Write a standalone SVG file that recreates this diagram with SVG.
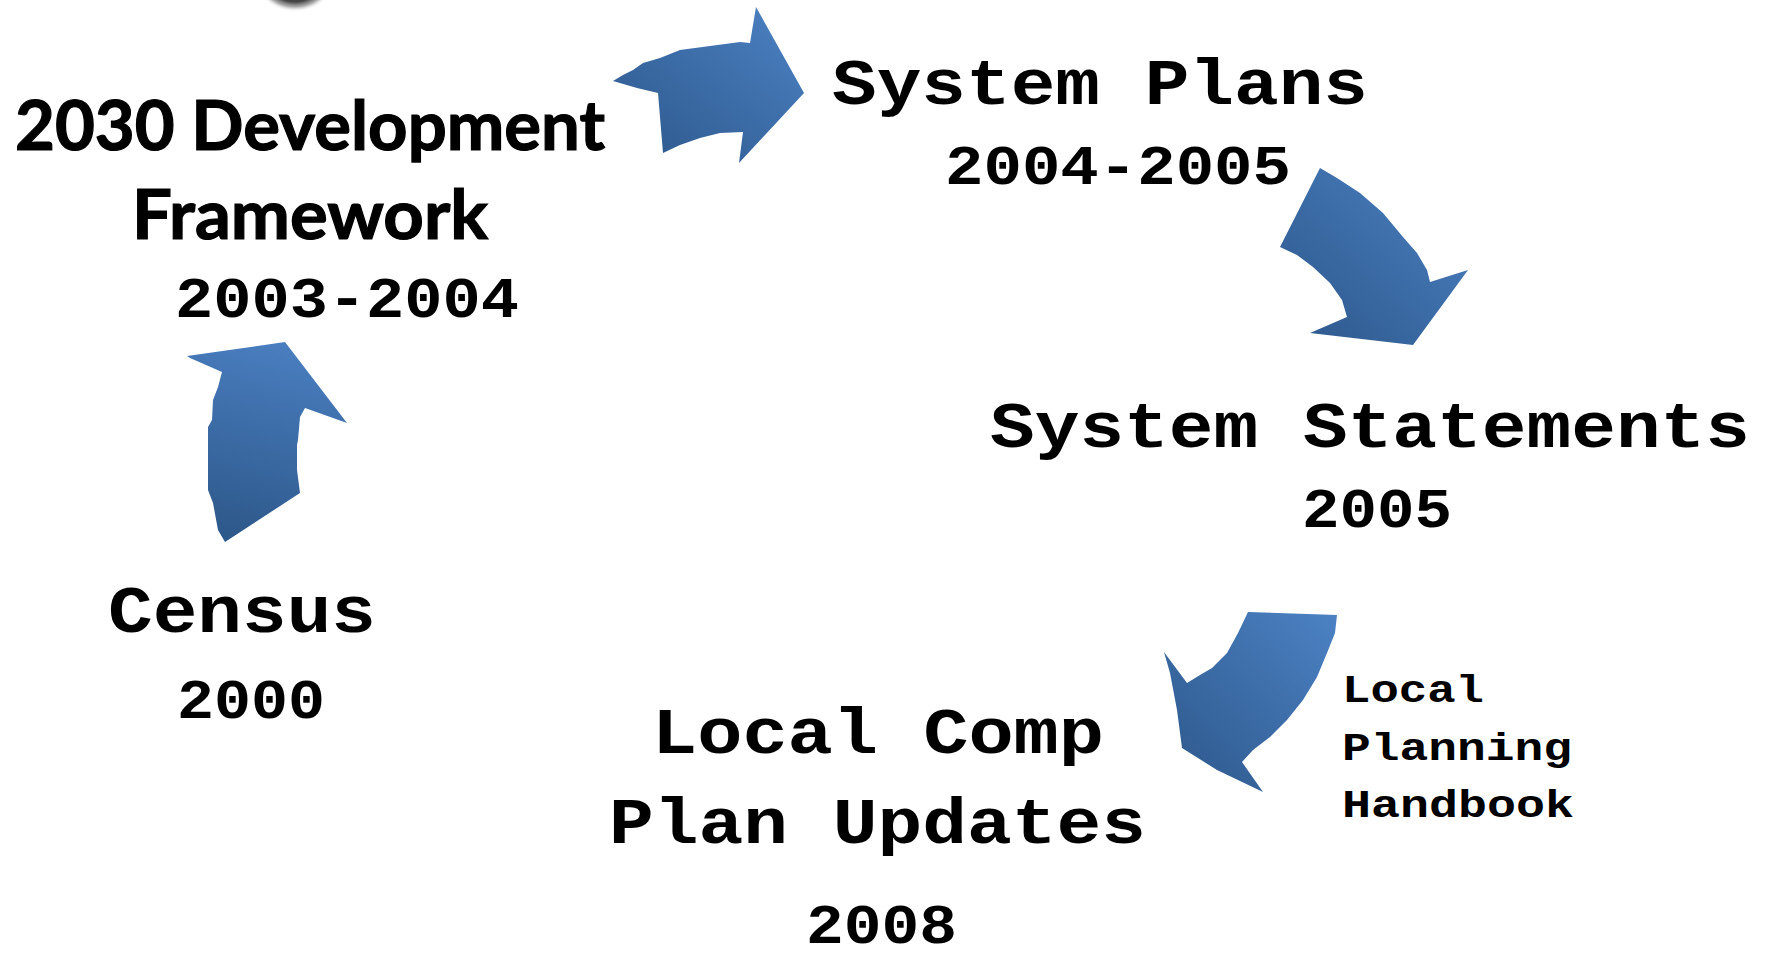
<svg xmlns="http://www.w3.org/2000/svg" width="1768" height="959" viewBox="0 0 1768 959">
<defs>
<linearGradient id="gArrow" x1="1" y1="0" x2="0" y2="1">
<stop offset="0" stop-color="#4c82c4"/>
<stop offset="1" stop-color="#2c5689"/>
</linearGradient>
<linearGradient id="gUp" x1="0.6" y1="0" x2="0.4" y2="1">
<stop offset="0" stop-color="#4a7ec0"/>
<stop offset="1" stop-color="#2d588a"/>
</linearGradient>
<radialGradient id="gBlob" cx="0.5" cy="0.5" r="0.5">
<stop offset="0" stop-color="#222222"/>
<stop offset="0.7" stop-color="#444444"/>
<stop offset="0.85" stop-color="#777777" stop-opacity="0.6"/>
<stop offset="1" stop-color="#ffffff" stop-opacity="0"/>
</radialGradient>
</defs>
<style>
.mono{font-family:"Liberation Mono","Courier New",monospace;font-weight:bold;fill:#000}
.sans{font-family:Lato,"Open Sans",sans-serif;font-weight:bold;fill:#000;stroke:#000;stroke-width:1.2}
.arrow{stroke:none}
</style>
<rect width="1768" height="959" fill="#ffffff"/>
<ellipse cx="295" cy="-22" rx="40" ry="34" fill="url(#gBlob)"/>

<g id="connectors">
<polygon class="arrow" fill="url(#gArrow)" points="613,81 623,75 633,70 643,63 660,58 680,50 710,46 740,42 750,43 756,7 804,93 739,163 743,132 720,133 700,138 680,145 663,153 658,93 637,88"/>
<polygon class="arrow" fill="url(#gArrow)" points="1320,168 1337,178 1360,193 1383,213 1403,237 1417,253 1427,270 1430,282 1468,270 1413,345 1310,333 1347,317 1342,300 1330,283 1313,267 1297,255 1280,247"/>
<polygon class="arrow" fill="url(#gArrow)" points="1248,612 1337,615 1335,633 1327,653 1317,677 1303,700 1287,720 1270,737 1253,750 1242,762 1263,792 1217,770 1182,748 1177,710 1170,673 1164,652 1187,683 1200,675 1212,668 1227,653 1238,633"/>
<polygon class="arrow" fill="url(#gUp)" points="187,356 285,342 347,423 305,408 300,417 298,440 297,445 297,470 300,493 225,542 218,530 213,503 208,490 208,427 212,420 213,400 218,387 222,372 190,358"/>
</g>

<g id="node-framework">
<text class="sans" x="15" y="150" font-size="68" textLength="590" lengthAdjust="spacingAndGlyphs">2030 Development</text>
<text class="sans" x="132" y="239" font-size="68" textLength="356" lengthAdjust="spacingAndGlyphs">Framework</text>
<text class="mono" x="175" y="317" font-size="58" textLength="344" lengthAdjust="spacingAndGlyphs">2003-2004</text>
</g>

<g id="node-system-plans">
<text class="mono" x="832" y="104" font-size="64" textLength="536" lengthAdjust="spacingAndGlyphs">System Plans</text>
<text class="mono" x="945" y="184" font-size="56" textLength="346" lengthAdjust="spacingAndGlyphs">2004-2005</text>
</g>

<g id="node-system-statements">
<text class="mono" x="990" y="447" font-size="64" textLength="760" lengthAdjust="spacingAndGlyphs">System Statements</text>
<text class="mono" x="1302" y="527" font-size="56" textLength="150" lengthAdjust="spacingAndGlyphs">2005</text>
</g>

<g id="node-local-comp">
<text class="mono" x="652" y="753" font-size="64" textLength="452" lengthAdjust="spacingAndGlyphs">Local Comp</text>
<text class="mono" x="609" y="843" font-size="64" textLength="537" lengthAdjust="spacingAndGlyphs">Plan Updates</text>
<text class="mono" x="806" y="943" font-size="56" textLength="151" lengthAdjust="spacingAndGlyphs">2008</text>
</g>

<g id="node-handbook">
<text class="mono" x="1342" y="702" font-size="38" textLength="142" lengthAdjust="spacingAndGlyphs">Local</text>
<text class="mono" x="1342" y="760" font-size="38" textLength="230" lengthAdjust="spacingAndGlyphs">Planning</text>
<text class="mono" x="1342" y="817" font-size="38" textLength="232" lengthAdjust="spacingAndGlyphs">Handbook</text>
</g>

<g id="node-census">
<text class="mono" x="108" y="632" font-size="66" textLength="268" lengthAdjust="spacingAndGlyphs">Census</text>
<text class="mono" x="177" y="718" font-size="56" textLength="148" lengthAdjust="spacingAndGlyphs">2000</text>
</g>
</svg>
